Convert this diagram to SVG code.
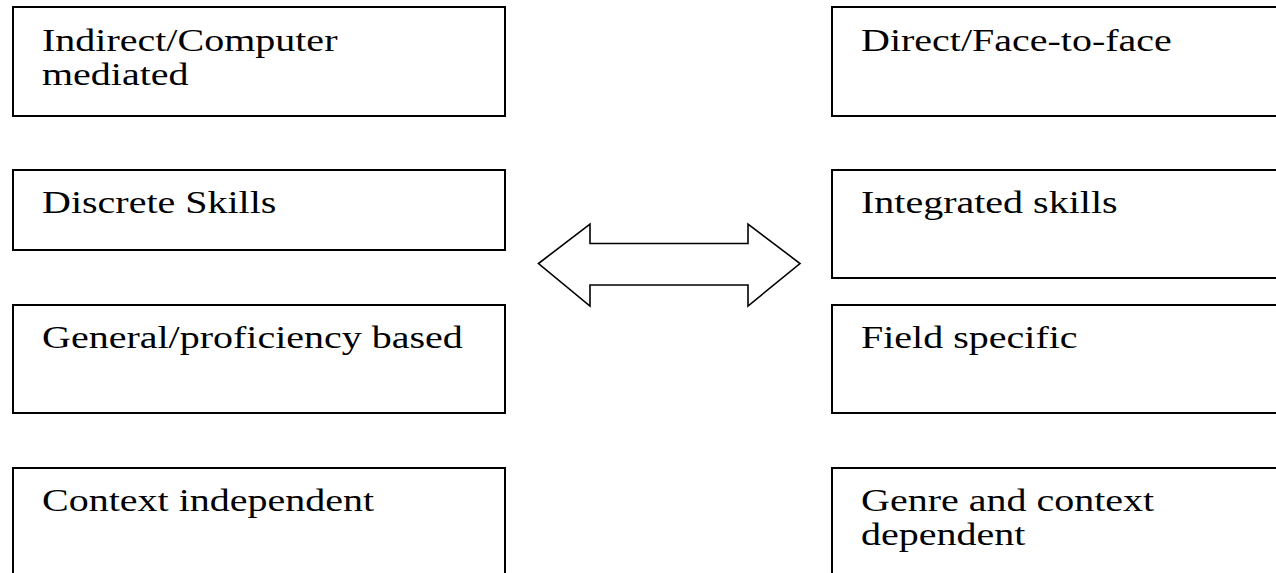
<svg xmlns="http://www.w3.org/2000/svg" width="1276" height="573" viewBox="0 0 1276 573">
<style>
.box{fill:#fff;stroke:#000;stroke-width:2}
.t{font-family:"Liberation Serif","Times New Roman",serif;font-size:32px;fill:#000}
.arr{fill:#fff;stroke:#000;stroke-width:1.6;stroke-linejoin:miter}
</style>
<rect width="1276" height="573" fill="#fff"/>
<g id="left1"><rect class="box" x="13" y="7" width="492" height="109"/><text class="t" transform="translate(42,51) scale(1.25,1)"><tspan x="0" y="0">Indirect/Computer</tspan><tspan x="0" y="34">mediated</tspan></text></g>
<g id="left2"><rect class="box" x="13" y="170" width="492" height="80"/><text class="t" transform="translate(42,213) scale(1.25,1)">Discrete Skills</text></g>
<g id="left3"><rect class="box" x="13" y="305" width="492" height="108"/><text class="t" transform="translate(42,348) scale(1.25,1)">General/proficiency based</text></g>
<g id="left4"><rect class="box" x="13" y="468" width="492" height="130"/><text class="t" transform="translate(42,511) scale(1.25,1)">Context independent</text></g>
<g id="right1"><rect class="box" x="832" y="7" width="470" height="109"/><text class="t" transform="translate(861,51) scale(1.25,1)">Direct/Face-to-face</text></g>
<g id="right2"><rect class="box" x="832" y="170" width="470" height="108"/><text class="t" transform="translate(861,213) scale(1.25,1)">Integrated skills</text></g>
<g id="right3"><rect class="box" x="832" y="305" width="470" height="108"/><text class="t" transform="translate(861,348) scale(1.25,1)">Field specific</text></g>
<g id="right4"><rect class="box" x="832" y="468" width="470" height="130"/><text class="t" transform="translate(861,511) scale(1.25,1)"><tspan x="0" y="0">Genre and context</tspan><tspan x="0" y="34">dependent</tspan></text></g>
<g id="connectors">
<path class="arr" d="M538.5,263.5 L590,224 L590,243.5 L748,243.5 L748,224 L800,263.5 L748,306 L748,285 L590,285 L590,306 Z"/>
</g>
</svg>
